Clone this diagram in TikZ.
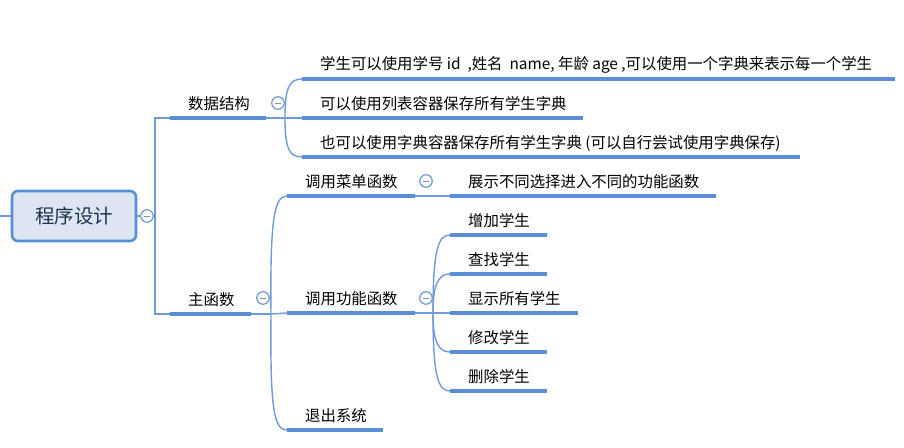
\documentclass[tikz,border=0pt]{standalone}
\usepackage{fontspec}
\setmainfont{Noto Sans CJK SC}
\definecolor{mblue}{HTML}{5A8ED6}
\definecolor{lblue}{HTML}{6E9BDB}
\definecolor{rootfill}{HTML}{DDE5F3}
\definecolor{roottext}{HTML}{1E3350}
\definecolor{minuscol}{HTML}{7F93AE}
\tikzset{
  uline/.style={draw=mblue, line width=4pt},
  conn/.style={draw=lblue, line width=1.4pt},
  lbl/.style={anchor=west, inner sep=0pt, font=\fontsize{15.4}{15.4}\selectfont, text=black},
  collapse/.style={circle, draw=lblue, line width=1.2pt, fill=white, inner sep=0pt, minimum size=12.5pt,
    path picture={\draw[minuscol, line width=1pt] ([xshift=-3pt]path picture bounding box.center) -- ([xshift=3pt]path picture bounding box.center);}},
  rootbox/.style={draw=mblue, line width=2.6pt, fill=rootfill, rounded corners=6pt, minimum width=124pt, minimum height=50pt, font=\fontsize{19.5}{19.5}\selectfont, text=roottext}
}
\newcommand{\topicu}[6]{%
  \coordinate (#1s) at (#2,#4);
  \coordinate (#1e) at (#3,#4);
  \draw[uline] (#1s) -- (#1e);
  \node[lbl] (#1) at (#5,#4-14) {#6};
}
\begin{document}
\begin{tikzpicture}[x=1pt,y=-1pt]
\useasboundingbox (0,0) rectangle (904,447);
% root
\coordinate (lft) at (0,216);
\node[rootbox] (root) at (74,216) {程序设计};
\draw[conn] (lft) -- (root.west);
\node[collapse] (c0) at (147,216) {};
\coordinate (b0) at (155,216);
% level 1
\topicu{ds}{170}{266}{118}{188}{数据结构}
\topicu{mf}{170}{251}{314}{188}{主函数}
\draw[conn] (root.east) -- (c0.west);
\draw[conn] (dss) -| (b0) |- (mfs);
% data structure children
\node[collapse] (c1) at (278,103) {};
\coordinate (b1) at (285,118);
\draw[conn] (dse) -- (b1);
\topicu{d1}{302}{895}{79}{320}{学生可以使用学号 id\ \ ,姓名\ \ name, 年龄 age ,可以使用一个字典来表示每一个学生}
\topicu{d2}{302}{583}{118}{320}{可以使用列表容器保存所有学生字典}
\topicu{d3}{302}{800}{157}{320}{也可以使用字典容器保存所有学生字典 (可以自行尝试使用字典保存)}
\draw[conn] (b1) .. controls (285,88) and (289,79) .. (d1s);
\draw[conn] (b1) -- (d2s);
\draw[conn] (b1) .. controls (285,148) and (289,157) .. (d3s);
% main function children
\node[collapse] (c2) at (263,298) {};
\coordinate (b2) at (271,314);
\draw[conn] (mfe) -- (b2);
\topicu{m1}{287}{415}{196}{305}{调用菜单函数}
\topicu{m2}{287}{415}{313}{305}{调用功能函数}
\topicu{m3}{287}{383}{430}{305}{退出系统}
\draw[conn] (b2) .. controls (270,220) and (274,196) .. (m1s);
\draw[conn] (b2) -- (m2s);
\draw[conn] (b2) .. controls (270,410) and (274,430) .. (m3s);
% menu child
\node[collapse] (c3) at (426,181) {};
\topicu{n1}{450}{716}{196}{468}{展示不同选择进入不同的功能函数}
\draw[conn] (m1e) -- (n1s);
% function children
\node[collapse] (c4) at (426,298) {};
\coordinate (b4) at (433,313);
\draw[conn] (m2e) -- (b4);
\topicu{f1}{450}{547}{235}{468}{增加学生}
\topicu{f2}{450}{547}{274}{468}{查找学生}
\topicu{f3}{450}{578}{313}{468}{显示所有学生}
\topicu{f4}{450}{547}{352}{468}{修改学生}
\topicu{f5}{450}{547}{391}{468}{删除学生}
\draw[conn] (b4) .. controls (433,250) and (438,235) .. (f1s);
\draw[conn] (b4) .. controls (433,285) and (438,274) .. (f2s);
\draw[conn] (b4) -- (f3s);
\draw[conn] (b4) .. controls (433,341) and (438,352) .. (f4s);
\draw[conn] (b4) .. controls (433,376) and (438,391) .. (f5s);
\end{tikzpicture}
\end{document}
